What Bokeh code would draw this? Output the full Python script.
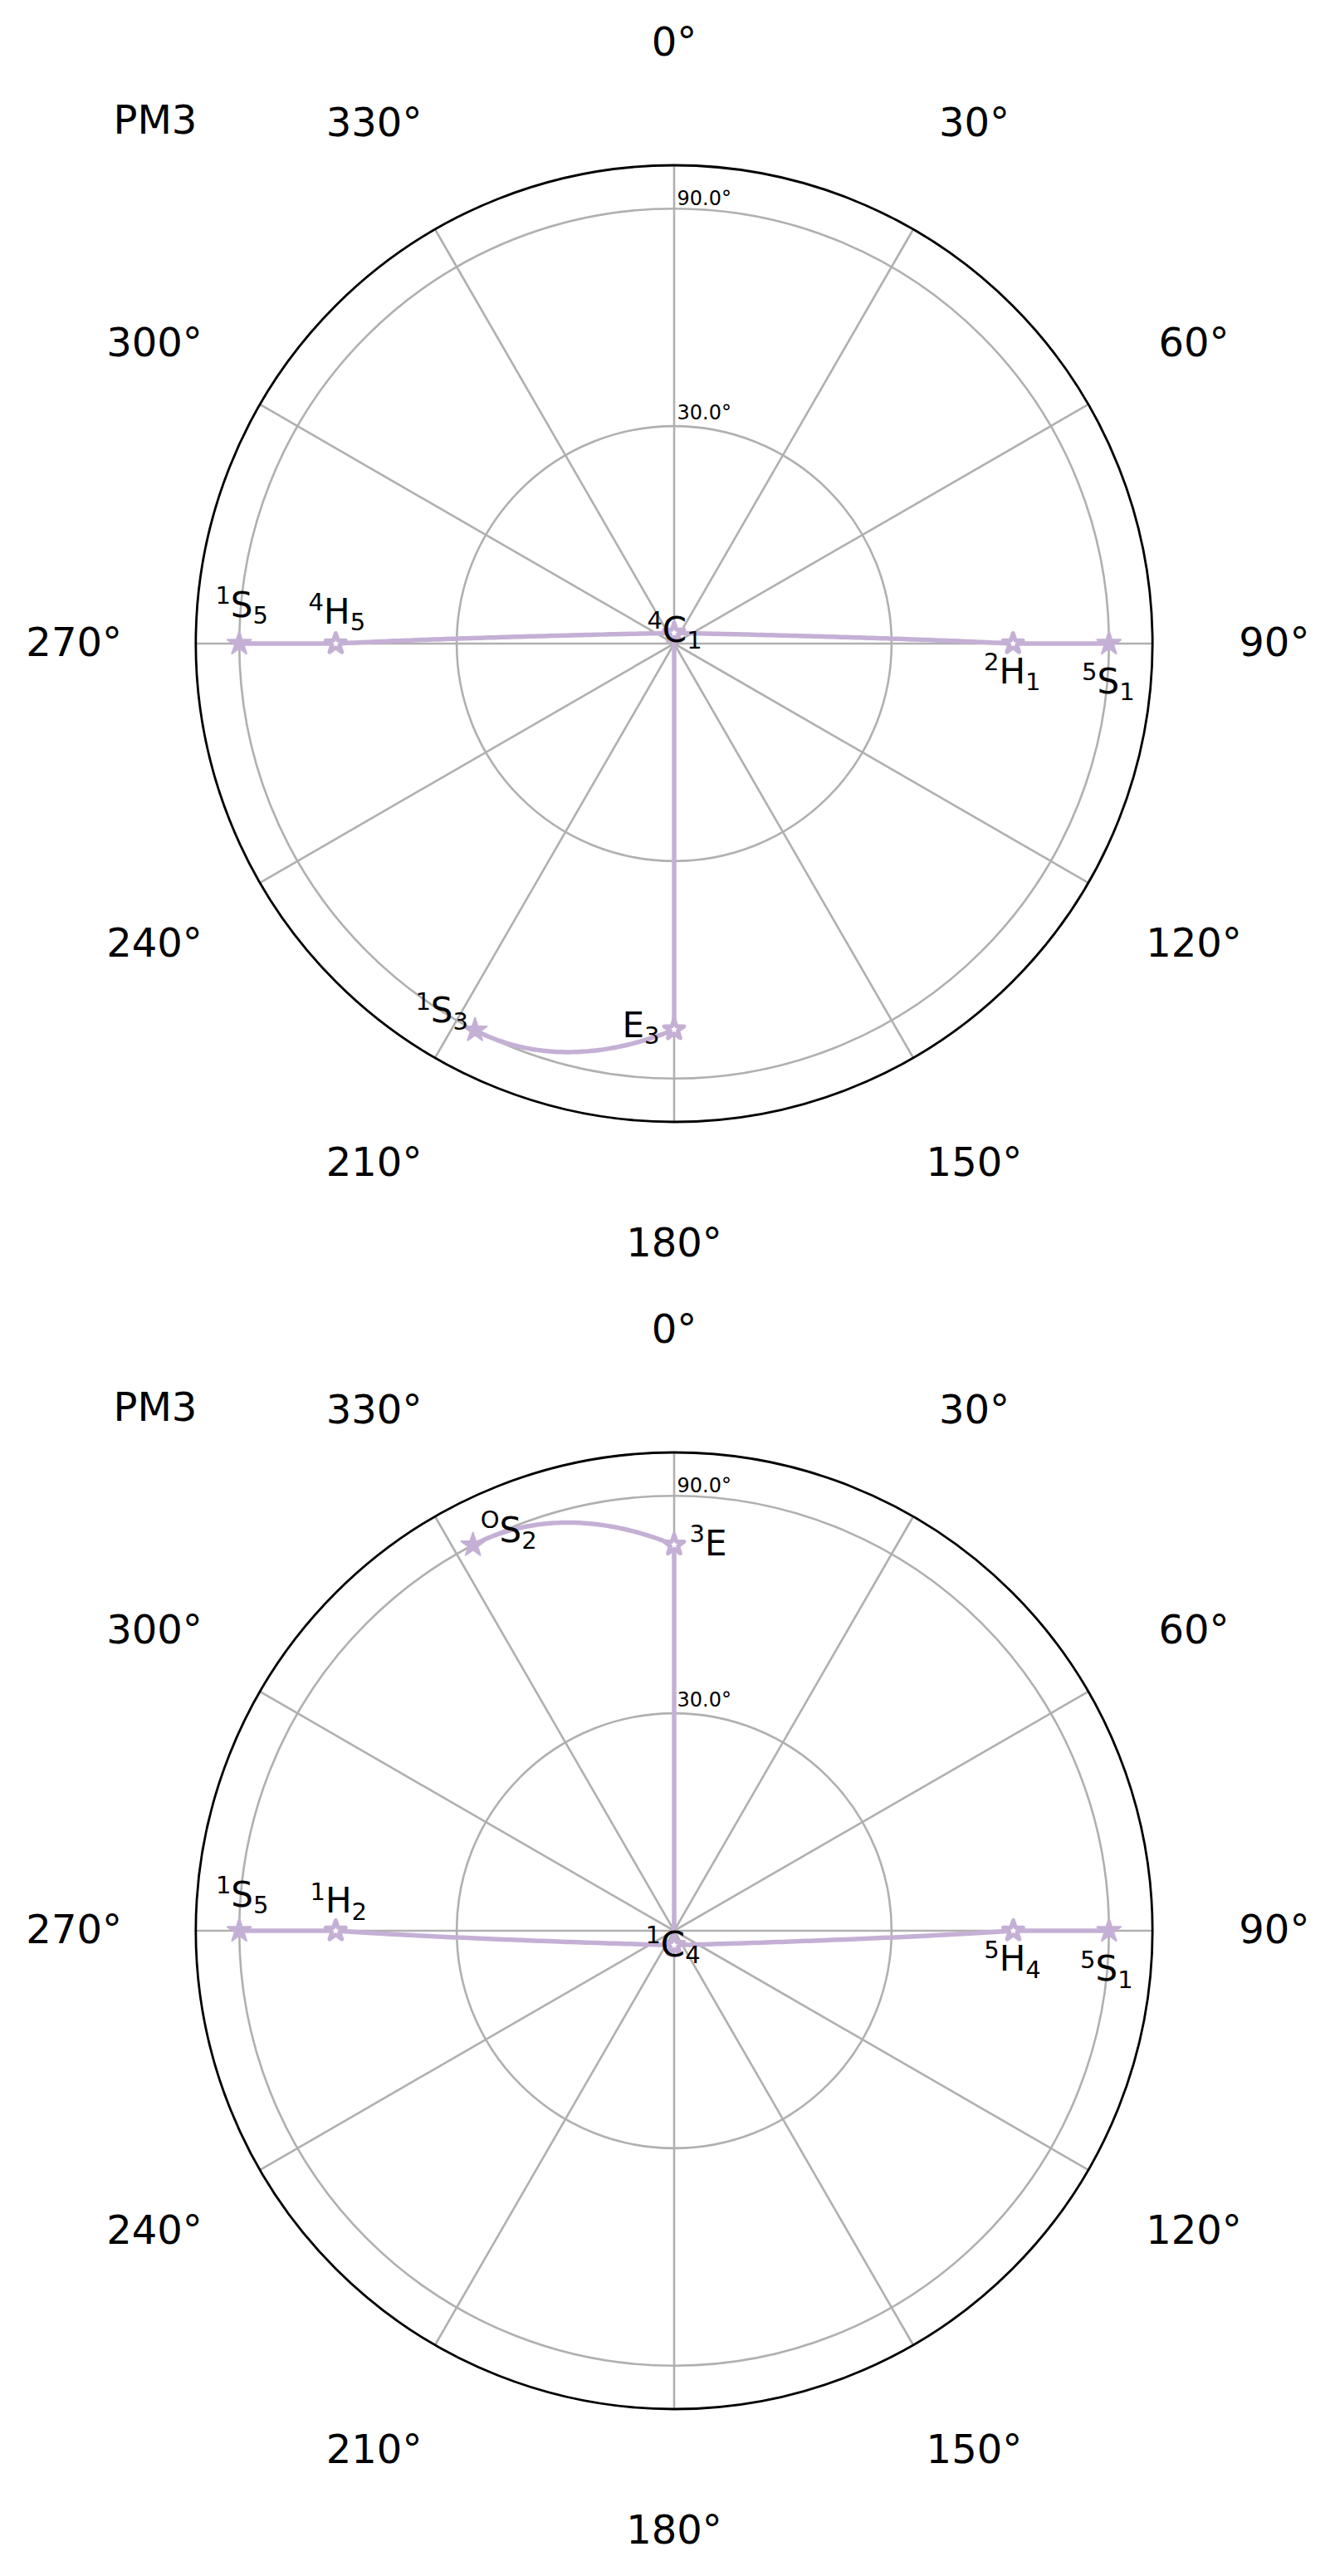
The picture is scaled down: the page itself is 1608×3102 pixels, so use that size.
import numpy as np
from bokeh.plotting import figure
from bokeh.models import Range1d
from bokeh.embed import file_html
from bokeh.resources import INLINE
from bokeh.core.properties import value

# ---------------- data ----------------
method_label = "PM3"

# upper panel (4C1 hemisphere): Cremer-Pople theta / phi in degrees
top_theta = [90.0, 51.1, 1.4, 51.2, 90.0, 62.55, 90.0]
top_phi = [270.0, 270.0, 0.0, 90.0, 90.0, 180.0, 207.25]
top_sup = ["1", "4", "4", "2", "5", "", "1"]
top_base = ["S", "H", "C", "H", "S", "E", "S"]
top_sub = ["5", "5", "1", "1", "1", "3", "3"]
top_paths = [[0, 1, 2, 3, 4], [2, 5, 6]]

# lower panel (1C4 hemisphere)
bot_theta = [90.0, 128.9, 178.1, 128.75, 90.0, 90.0, 117.5]
bot_phi = [270.0, 270.0, 180.0, 90.0, 90.0, 332.45, 0.0]
bot_sup = ["1", "1", "1", "5", "5", "O", "3"]
bot_base = ["S", "H", "C", "H", "S", "S", "E"]
bot_sub = ["5", "2", "4", "4", "1", "2", ""]
bot_paths = [[0, 1, 2, 3, 4], [2, 6, 5]]

theta_ticks = [0, 30, 60, 90, 120, 150, 180, 210, 240, 270, 300, 330]
theta_tick_labels = ["0°", "30°", "60°", "90°", "120°", "150°", "180°",
                     "210°", "240°", "270°", "300°", "330°"]
r_ticks = [30.0, 90.0]
r_tick_labels = ["30.0°", "90.0°"]

# ---------------- styles / layout ----------------
S = 523.8            # px per unit of sin(theta)
W, H = 1608, 3102
CX_PX, CY_PX = 811.5, 774.5
PANEL_DY = 1550.0    # px between panel centres
R_OUT = 1.1
R_TLAB = 1.38
PURPLE = "#c5b0d5"
GRID = "#b0b0b0"
FONT = value("DejaVu Sans")
BASE_K = 0.4         # baseline correction (em) for the svg text renderer

top_ldx = [3, 1.5, 0.5, -1, -1, -40, -40]
top_ldy = [-29.5, -22, 13, 50, 62, 11, -7]
bot_ldx = [3.5, 3.4, -1.5, -1, -3, 43, 41]
bot_ldy = [-26.6, -19.3, 16, 50.7, 62.7, -1.6, 15]
rlab_gap_px = [7.0, 2.5]

TICK_FS, RT_FS, MAIN_FS, SMALL_FS = 48, 24, 42, 29
ADV = {"S": 0.635, "H": 0.752, "C": 0.698, "E": 0.632, "O": 0.787}
DIGIT_ADV = 0.636

p = figure(width=W, height=H,
           x_range=Range1d(-CX_PX / S, (W - CX_PX) / S),
           y_range=Range1d(-(H - CY_PX) / S, CY_PX / S),
           output_backend="svg", toolbar_location=None,
           x_axis_type=None, y_axis_type=None,
           min_border=0, outline_line_color=None,
           background_fill_color="white", border_fill_color="white")


def up(fs):
    return BASE_K * fs / S


def adv(ch):
    return ADV.get(ch, DIGIT_ADV)


def vec(theta, phi):
    t, f = np.radians(theta), np.radians(phi)
    return np.array([np.sin(t) * np.sin(f), np.sin(t) * np.cos(f), np.cos(t)])


def arc(a, b, n=80):
    om = np.arccos(np.clip(np.dot(a, b), -1, 1))
    ts = np.linspace(0, 1, n)
    if om < 1e-9:
        pts = np.outer(1 - ts, a) + np.outer(ts, b)
    else:
        pts = (np.outer(np.sin((1 - ts) * om), a) + np.outer(np.sin(ts * om), b)) / np.sin(om)
    return pts[:, 0], pts[:, 1]


def panel(cy, theta, phi, sup, base, sub, paths, ldx, ldy):
    ang = np.radians(theta_ticks)
    # grid circles
    p.circle(x=[0, 0], y=[cy, cy], radius=[np.sin(np.radians(r)) for r in r_ticks],
             fill_color=None, line_color=GRID, line_width=2.6)
    # spokes
    p.segment(x0=[0] * len(ang), y0=[cy] * len(ang),
              x1=list(R_OUT * np.sin(ang)), y1=list(cy + R_OUT * np.cos(ang)),
              line_color=GRID, line_width=2.6)
    # outer spine
    p.circle(x=[0], y=[cy], radius=[R_OUT], fill_color=None,
             line_color="black", line_width=2.8)
    # theta tick labels
    p.text(x=list(R_TLAB * np.sin(ang)),
           y=list(cy + R_TLAB * np.cos(ang) - 17.5 / S + up(TICK_FS)),
           text=theta_tick_labels, text_font=FONT, text_font_size=f"{TICK_FS}px",
           text_align="center", text_baseline="alphabetic", text_color="black")
    # radial tick labels
    p.text(x=[3.5 / S] * len(r_ticks),
           y=[cy + np.sin(np.radians(r)) + g / S + up(RT_FS) for r, g in zip(r_ticks, rlab_gap_px)],
           text=r_tick_labels, text_font=FONT, text_font_size=f"{RT_FS}px",
           text_align="left", text_baseline="alphabetic", text_color="black")
    # method label
    p.text(x=[(136 - CX_PX) / S], y=[cy + (CY_PX - 163) / S + up(TICK_FS)], text=[method_label],
           text_font=FONT, text_font_size=f"{TICK_FS}px", text_align="left",
           text_baseline="alphabetic", text_color="black")

    vs = [vec(t, f) for t, f in zip(theta, phi)]
    xs, ys = [], []
    for path in paths:
        px, py = [], []
        for i, j in zip(path[:-1], path[1:]):
            ax_, ay_ = arc(vs[i], vs[j])
            px.extend(ax_.tolist())
            py.extend((ay_ + cy).tolist())
        xs.append(px)
        ys.append(py)
    p.multi_line(xs, ys, line_color=PURPLE, line_width=5.5,
                 line_cap="round", line_join="round")

    mx = [v[0] for v in vs]
    my = [v[1] + cy for v in vs]
    filled = [b == "S" for b in base]
    fx = [x for x, f in zip(mx, filled) if f]
    fy = [y for y, f in zip(my, filled) if f]
    hx = [x for x, f in zip(mx, filled) if not f]
    hy = [y for y, f in zip(my, filled) if not f]
    p.scatter(fx, fy, marker="star", size=30, fill_color=PURPLE,
              line_color=PURPLE, line_width=2, line_join="round")
    p.scatter(hx, hy, marker="star", size=25, fill_color="white",
              line_color=PURPLE, line_width=5, line_join="round")

    # point labels: superscript, base letter, subscript
    sx, sy, st = [], [], []
    bx, by, bt = [], [], []
    ux, uy, ut = [], [], []
    for k in range(len(base)):
        wsup = adv(sup[k]) * SMALL_FS if sup[k] else 0.0
        wb = adv(base[k]) * MAIN_FS
        wsub = adv(sub[k]) * SMALL_FS if sub[k] else 0.0
        tot = wsup + wb + wsub
        left = mx[k] + (ldx[k] - tot / 2) / S
        base_y = my[k] - ldy[k] / S
        if sup[k]:
            sx.append(left); sy.append(base_y + 17 / S + up(SMALL_FS)); st.append(sup[k])
        bx.append(left + wsup / S); by.append(base_y + up(MAIN_FS)); bt.append(base[k])
        if sub[k]:
            ux.append(left + (wsup + wb) / S); uy.append(base_y - 7 / S + up(SMALL_FS)); ut.append(sub[k])
    p.text(x=sx, y=sy, text=st, text_font=FONT, text_font_size=f"{SMALL_FS}px",
           text_align="left", text_baseline="alphabetic", text_color="black")
    p.text(x=bx, y=by, text=bt, text_font=FONT, text_font_size=f"{MAIN_FS}px",
           text_align="left", text_baseline="alphabetic", text_color="black")
    p.text(x=ux, y=uy, text=ut, text_font=FONT, text_font_size=f"{SMALL_FS}px",
           text_align="left", text_baseline="alphabetic", text_color="black")


panel(0.0, top_theta, top_phi, top_sup, top_base, top_sub, top_paths, top_ldx, top_ldy)
panel(-PANEL_DY / S, bot_theta, bot_phi, bot_sup, bot_base, bot_sub, bot_paths, bot_ldx, bot_ldy)

open("out.html", "w").write(file_html(p, INLINE))
